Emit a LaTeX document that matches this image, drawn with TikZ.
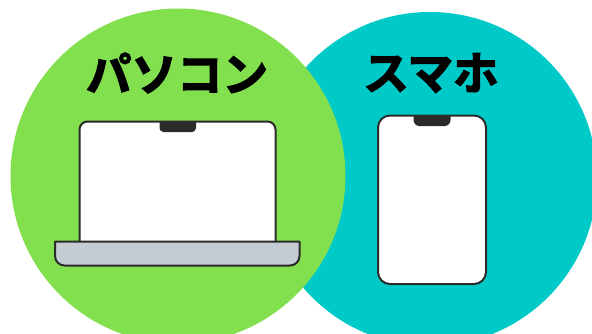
\documentclass[tikz,border=0pt]{standalone}
\usepackage{fontspec}
\newfontfamily\jp{Noto Sans CJK JP}[BoldFont=* Bold,BoldFeatures={FakeBold=3}]
\definecolor{lime}{HTML}{82DF4E}
\definecolor{teal2}{HTML}{00CAC7}
\definecolor{ink}{HTML}{2B2B2B}
\definecolor{base}{HTML}{C5CBD3}
\tikzset{
 title/.style={font=\jp\bfseries\fontsize{45.5pt}{45.5pt}\selectfont,text=black,inner sep=0pt},
 device/.style={draw=ink,line width=2pt,line join=round},
 notch/.style={fill=ink,draw=none}
}
\begin{document}
\begin{tikzpicture}[x=1pt,y=-1pt]
\useasboundingbox (0,0) rectangle (592,333);
\fill[white] (0,0) rectangle (592,333);
\begin{scope}
\clip (0,0) rectangle (592,333);
\fill[teal2] (430,179) circle[radius=167];
\fill[lime] (178,176) circle[radius=167.5];
\end{scope}
\node[title] (pc) at (177,73) {パソコン};
\node[title] (sp) at (431,73) {スマホ};
% laptop
\draw[device,fill=white] (79.5,242) [rounded corners=8pt] -- (79.5,121.5) -- (275.5,121.5) [sharp corners] -- (275.5,242) -- cycle;
\fill[notch] (159.5,121) [rounded corners=4pt] -- (159.5,132) -- (196,132) [sharp corners] -- (196,121) -- cycle;
\draw[device,fill=base] (55,241.5) -- (299.5,241.5) [rounded corners=9.5pt] -- (299.5,265.5) -- (55,265.5) [sharp corners] -- cycle;
% phone
\draw[device,fill=white,rounded corners=12pt] (378,115.5) rectangle (486,284);
\fill[notch] (413.5,115) [rounded corners=6pt] -- (413.5,126) -- (450.5,126) [sharp corners] -- (450.5,115) -- cycle;
\end{tikzpicture}
\end{document}
